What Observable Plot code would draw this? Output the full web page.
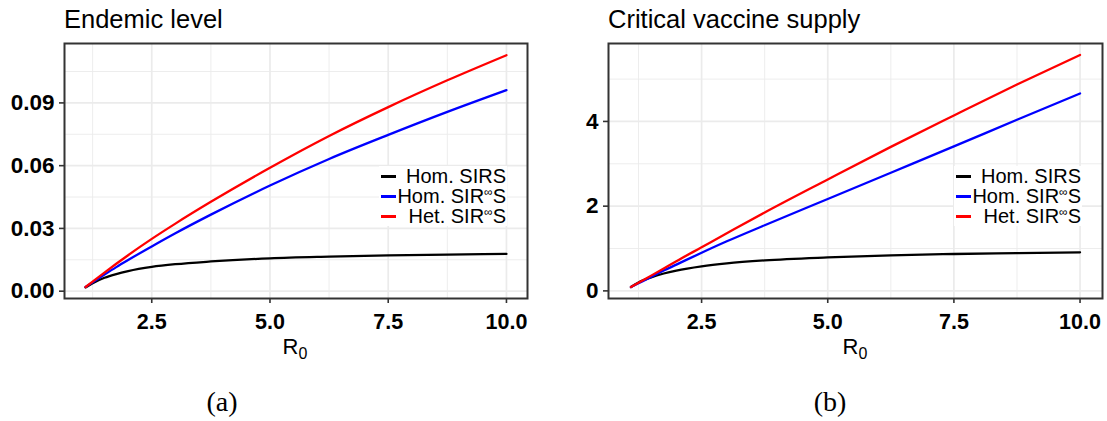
<!DOCTYPE html>
<html>
<head>
<meta charset="utf-8">
<script src="https://cdn.jsdelivr.net/npm/d3@7"></script>
<script src="https://cdn.jsdelivr.net/npm/@observablehq/plot@0.6"></script>
<style>
  html, body { margin: 0; padding: 0; background: #fff; }
  #root { position: relative; width: 1107px; height: 421px; overflow: hidden; background: #fff;
          font-family: "Liberation Sans", Arial, Helvetica, sans-serif; color: #000; }
  .panel { position: absolute; top: 0; }
  .title { position: absolute; top: 6px; font-size: 25.5px; line-height: 26px; white-space: nowrap; }
  .xlab { position: absolute; top: 336px; font-size: 22px; line-height: 22px; transform: translateX(-50%); white-space: nowrap; }
  .xlab sub { font-size: 16px; vertical-align: -5px; line-height: 0; }
  .caption { position: absolute; top: 387px; font-family: "Liberation Serif", "DejaVu Serif", serif; font-size: 28px; line-height: 30px; transform: translateX(-50%); }
  .legend { position: absolute; top: 166px; background: #fff; display: grid; grid-template-columns: 16px auto;
            row-gap: 0; font-size: 20px; line-height: 20px; padding: 0 1px 0 2px; }
  .legend .key { height: 20px; position: relative; }
  .legend .key span { position: absolute; left: 0; top: 9px; width: 15px; height: 2.5px; }
  .legend .lab { text-align: right; white-space: nowrap; height: 20px; overflow: hidden; }
  .inf { display: inline-block; font-size: 12px; line-height: 12px; height: 12px; vertical-align: top; }
</style>
</head>
<body>
<div id="root"></div>
<script>
// ---- data ----
const r0 = [1.1, 1.25, 1.5, 1.75, 2, 2.5, 3, 3.75, 5, 6.25, 7.5, 8.75, 10];

const endemicHomSIRS = [0.0018, 0.0038, 0.0064, 0.0082, 0.0096, 0.0116, 0.0129, 0.0142, 0.0157, 0.0165, 0.0171, 0.0175, 0.0178];
const endemicHomInf  = [0.0020, 0.0042, 0.0079, 0.0115, 0.0149, 0.0214, 0.0277, 0.0366, 0.0505, 0.0632, 0.0747, 0.0857, 0.0961];
const endemicHetInf  = [0.0020, 0.0046, 0.0089, 0.0131, 0.0172, 0.0250, 0.0323, 0.0427, 0.0590, 0.0742, 0.0880, 0.1008, 0.1128];

const vaccineHomSIRS = [0.09, 0.20, 0.32, 0.41, 0.48, 0.58, 0.65, 0.72, 0.79, 0.84, 0.87, 0.89, 0.91];
const vaccineHomInf  = [0.09, 0.18, 0.33, 0.48, 0.62, 0.90, 1.17, 1.55, 2.17, 2.79, 3.41, 4.04, 4.66];
const vaccineHetInf  = [0.09, 0.19, 0.36, 0.53, 0.70, 1.03, 1.36, 1.85, 2.63, 3.40, 4.14, 4.87, 5.57];

const seriesNames  = ["Hom. SIRS", "Hom. SIR∞S", "Het. SIR∞S"];
const seriesColors = ["#000000", "#0000ff", "#ff0000"];

const panelTitles = ["Endemic level", "Critical vaccine supply"];
const captions = ["(a)", "(b)"];

const xTicks = [2.5, 5, 7.5, 10];
const xMinor = [1.25, 3.75, 6.25, 8.75];
const endemicTicks = [0, 0.03, 0.06, 0.09];
const endemicMinor = [0.015, 0.045, 0.075, 0.105];
const vaccineTicks = [0, 2, 4];
const vaccineMinor = [1, 3, 5];

// ---- build ----
function tidy(arrays) {
  const rows = [];
  arrays.forEach((arr, k) => arr.forEach((v, i) => rows.push({r0: r0[i], value: v, series: seriesNames[k]})));
  return rows;
}

function makePanel({arrays, yTicks, yMinor, yDomain, tickFormat, width, marginLeft, marginRight}) {
  const data = tidy(arrays);
  return Plot.plot({
    width, height: 370,
    marginTop: 43, marginBottom: 72, marginLeft, marginRight,
    style: {fontFamily: '"Liberation Sans", Arial, sans-serif', fontSize: "21px", fontWeight: "bold", color: "#000", background: "#fff", overflow: "visible"},
    x: {domain: [0.655, 10.445]},
    y: {domain: yDomain},
    color: {domain: seriesNames, range: seriesColors},
    marks: [
      Plot.ruleX(xMinor, {stroke: "#ebebeb", strokeWidth: 0.9}),
      Plot.ruleY(yMinor, {stroke: "#ebebeb", strokeWidth: 0.9}),
      Plot.ruleX(xTicks, {stroke: "#ebebeb", strokeWidth: 1.7}),
      Plot.ruleY(yTicks, {stroke: "#ebebeb", strokeWidth: 1.7}),
      Plot.lineY(data, {x: "r0", y: "value", z: "series", stroke: "series", strokeWidth: 2.3, curve: "monotone-x"}),
      Plot.frame({stroke: "#333333", strokeWidth: 2}),
      Plot.axisX(xTicks, {tickSize: 5, tickPadding: 10, stroke: "#333333", strokeWidth: 1.6, fill: "#000", label: null, fontSize: 21.5, tickFormat: d => d.toFixed(1)}),
      Plot.axisY(yTicks, {tickSize: 5, tickPadding: 5, stroke: "#333333", strokeWidth: 1.6, fill: "#000", label: null, fontSize: 22.5, tickFormat})
    ]
  });
}

const root = document.getElementById("root");

function addPanel(left, svg) {
  const d = document.createElement("div");
  d.className = "panel";
  d.style.left = left + "px";
  d.appendChild(svg);
  root.appendChild(d);
}

addPanel(0, makePanel({
  arrays: [endemicHomSIRS, endemicHomInf, endemicHetInf],
  yTicks: endemicTicks, yMinor: endemicMinor, yDomain: [-0.0035, 0.1184],
  tickFormat: d => d.toFixed(2), width: 545, marginLeft: 64, marginRight: 18
}));
addPanel(560, makePanel({
  arrays: [vaccineHomSIRS, vaccineHomInf, vaccineHetInf],
  yTicks: vaccineTicks, yMinor: vaccineMinor, yDomain: [-0.18, 5.84],
  tickFormat: d => String(d), width: 547, marginLeft: 48, marginRight: 5
}));

function addText(cls, left, html) {
  const d = document.createElement("div");
  d.className = cls;
  d.style.left = left + "px";
  d.innerHTML = html;
  root.appendChild(d);
}
addText("title", 64, panelTitles[0]);
addText("title", 608, panelTitles[1]);
addText("xlab", 295, "R<sub>0</sub>");
addText("xlab", 855, "R<sub>0</sub>");
addText("caption", 222, captions[0]);
addText("caption", 830, captions[1]);

function legendLabel(name) {
  return name.replace("∞", '<span class="inf">∞</span>');
}
function addLegend(rightEdge) {
  const lg = document.createElement("div");
  lg.className = "legend";
  lg.style.right = (1107 - rightEdge) + "px";
  seriesNames.forEach((n, i) => {
    const k = document.createElement("div");
    k.className = "key";
    k.innerHTML = `<span style="background:${seriesColors[i]}"></span>`;
    const t = document.createElement("div");
    t.className = "lab";
    t.innerHTML = legendLabel(n);
    lg.appendChild(k); lg.appendChild(t);
  });
  root.appendChild(lg);
}
addLegend(507);
addLegend(1082);
</script>
</body>
</html>
